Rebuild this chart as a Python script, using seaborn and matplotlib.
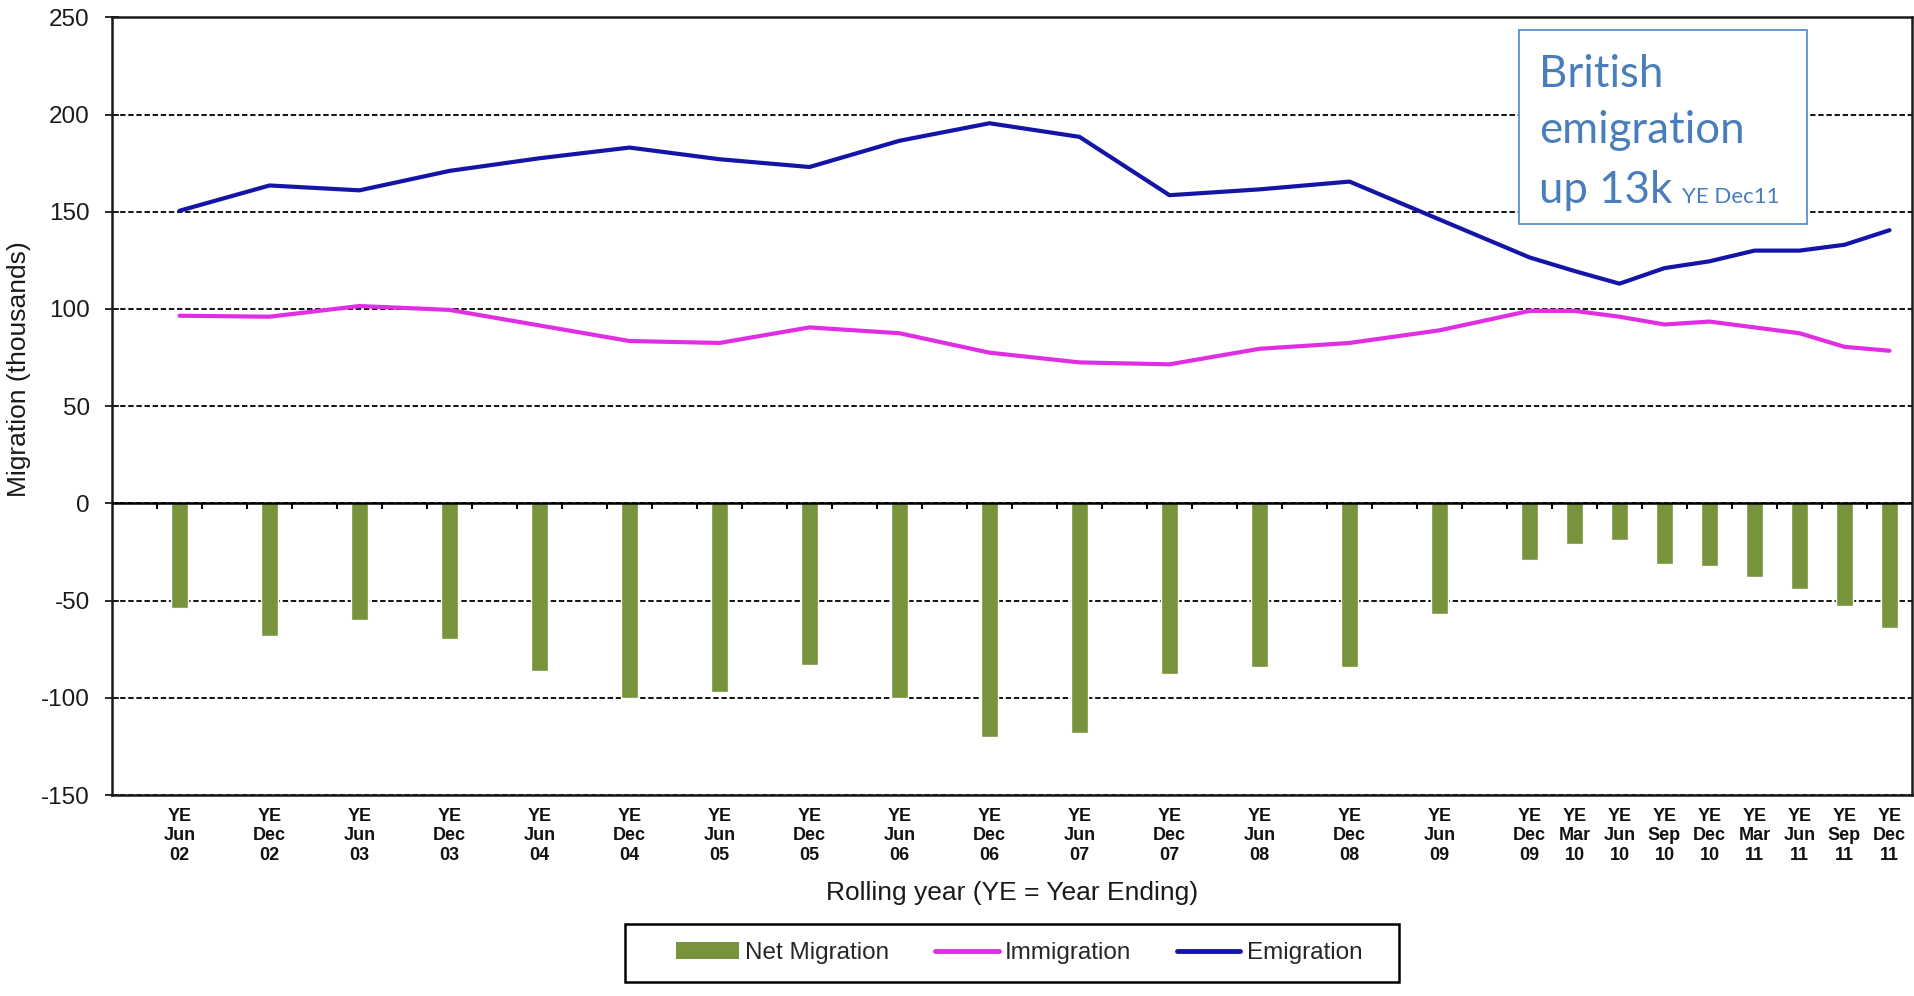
import numpy as np
import matplotlib
matplotlib.use("Agg")
import matplotlib.pyplot as plt
from matplotlib.patches import Patch, Rectangle
from matplotlib.lines import Line2D
import seaborn as sns

# Rolling-year periods (YE = year ending)
periods = ["Jun 02", "Dec 02", "Jun 03", "Dec 03", "Jun 04", "Dec 04", "Jun 05",
           "Dec 05", "Jun 06", "Dec 06", "Jun 07", "Dec 07", "Jun 08", "Dec 08",
           "Jun 09", "Dec 09", "Mar 10", "Jun 10", "Sep 10", "Dec 10", "Mar 11",
           "Jun 11", "Sep 11", "Dec 11"]

# British migration, thousands
net_migration = [-54, -68, -60, -70, -86, -100, -97, -83, -100, -120, -118, -88,
                 -84, -84, -57, -29, -21, -19, -31, -32, -38, -44, -53, -64]
immigration = [96.5, 96, 101.5, 99.5, 91.5, 83.5, 82.5, 90.5, 87.5, 77.5, 72.5,
               71.5, 79.5, 82.5, 89, 99, 99, 96, 92, 93.5, 90.5, 87.5, 80.5, 78.5]
emigration = [150.5, 163.5, 161, 171, 177.5, 183, 177, 173, 186.5, 195.5, 188.5,
              158.5, 161.5, 165.5, 146, 126.5, 119.5, 113, 121, 124.5, 130, 130,
              133, 140.5]

y_ticks = [-150, -100, -50, 0, 50, 100, 150, 200, 250]

# Place each period on a quarterly time axis (quarters since YE Jun 02)
month_num = {"Mar": 3, "Jun": 6, "Sep": 9, "Dec": 12}
def quarter_index(p):
    m, yy = p.split()
    return ((2000 + int(yy)) * 12 + month_num[m] - (2002 * 12 + 6)) / 3

pos = np.array([quarter_index(p) for p in periods])
tick_labels = ["YE\n{}\n{}".format(*p.split()) for p in periods]

GREEN = "#77933C"
MAGENTA = "#E22EE2"
BLUE = "#1414A8"

sns.set_style("white")
plt.rcParams["font.family"] = ["Liberation Sans", "DejaVu Sans"]

fig = plt.figure(figsize=(19.15, 9.96), dpi=100)
ax = fig.add_axes([112 / 1915, 1 - 795 / 996, (1912 - 112) / 1915, (795 - 17.3) / 996])

sns.barplot(x=pos, y=net_migration, native_scale=True, width=0.36, color=GREEN,
            saturation=1, errorbar=None, ax=ax, zorder=2)
sns.lineplot(x=pos, y=immigration, color=MAGENTA, linewidth=3.0, ax=ax,
             legend=False, zorder=3)
sns.lineplot(x=pos, y=emigration, color=BLUE, linewidth=3.0, ax=ax,
             legend=False, zorder=3)

ymin, ymax = y_ticks[0], y_ticks[-1]
ax.set_xlim(pos[0] - 1.5, pos[-1] + 0.5)
ax.set_ylim(ymin, ymax)
ax.set_yticks(y_ticks)
ax.set_yticklabels([str(v) for v in y_ticks])
ax.set_xticks(pos)
ax.set_xticklabels(tick_labels, linespacing=1.2, fontweight="bold")
ax.set_xlabel("")
ax.set_ylabel("")

ax.set_axisbelow(True)
ax.grid(axis="y", color="black", linestyle=(0, (3, 1.5)), linewidth=1.3)
ax.grid(axis="x", visible=False)
ax.axhline(0, color="black", linewidth=1.8, zorder=4)

for s in ax.spines.values():
    s.set_visible(True)
    s.set_color("#1a1a1a")
    s.set_linewidth(1.8)

ax.tick_params(axis="y", direction="inout", length=10, width=1.3, pad=11,
               labelsize=17.5, colors="#1a1a1a", left=True)
ax.tick_params(axis="x", length=0, pad=9, labelsize=13, labelcolor="#111111")

# Quarter tick marks along the zero line
zero_frac = (0 - ymin) / (ymax - ymin)
secax = ax.secondary_xaxis(zero_frac)
secax.set_xticks(np.arange(pos[0] - 0.5, pos[-1], 1.0))
secax.tick_params(axis="x", direction="out", length=4.5, width=1.5,
                  labelbottom=False, labeltop=False, colors="black")
for s in secax.spines.values():
    s.set_visible(False)

fig.text(1012 / 1915, 1 - 900 / 996, "Rolling year (YE = Year Ending)",
         ha="center", va="baseline", fontsize=19, color="#1a1a1a")
fig.text(19 / 1915, 1 - 369.5 / 996, "Migration (thousands)", rotation=90,
         ha="center", va="center", fontsize=19, color="#1a1a1a")

# Legend with its own rectangular frame
handles = [Patch(facecolor=GREEN, edgecolor="none", label="Net Migration"),
           Line2D([], [], color=MAGENTA, linewidth=3.5, label="Immigration"),
           Line2D([], [], color=BLUE, linewidth=3.5, label="Emigration")]
fig.legend(handles=handles, loc="center", ncol=3, frameon=False,
           bbox_to_anchor=(1019 / 1915, 1 - 953 / 996), fontsize=17.5,
           handlelength=2.6, handletextpad=0.25, columnspacing=1.9)
fig.add_artist(Rectangle((625 / 1915, 1 - 982 / 996), (1399 - 625) / 1915,
                         (982 - 924) / 996, transform=fig.transFigure,
                         facecolor="none", edgecolor="black", linewidth=1.8))

# Call-out box
NOTE = "#4A7EBB"
fig.add_artist(Rectangle((1519 / 1915, 1 - 224 / 996), (1807 - 1519) / 1915,
                         (224 - 30) / 996, transform=fig.transFigure,
                         facecolor="white", edgecolor="#5B8FD0", linewidth=1.3,
                         zorder=5))
for txt, yb in [("British", 87), ("emigration", 143), ("up 13k", 203)]:
    fig.text(1539 / 1915, 1 - yb / 996, txt, fontsize=31.5, color=NOTE,
             family=["Lato", "DejaVu Sans"], va="baseline", zorder=6)
fig.text(1682 / 1915, 1 - 203 / 996, "YE Dec11", fontsize=16, color=NOTE,
         family=["Lato", "DejaVu Sans"], va="baseline", zorder=6)

fig.savefig("out.png", dpi=100, facecolor="white")
